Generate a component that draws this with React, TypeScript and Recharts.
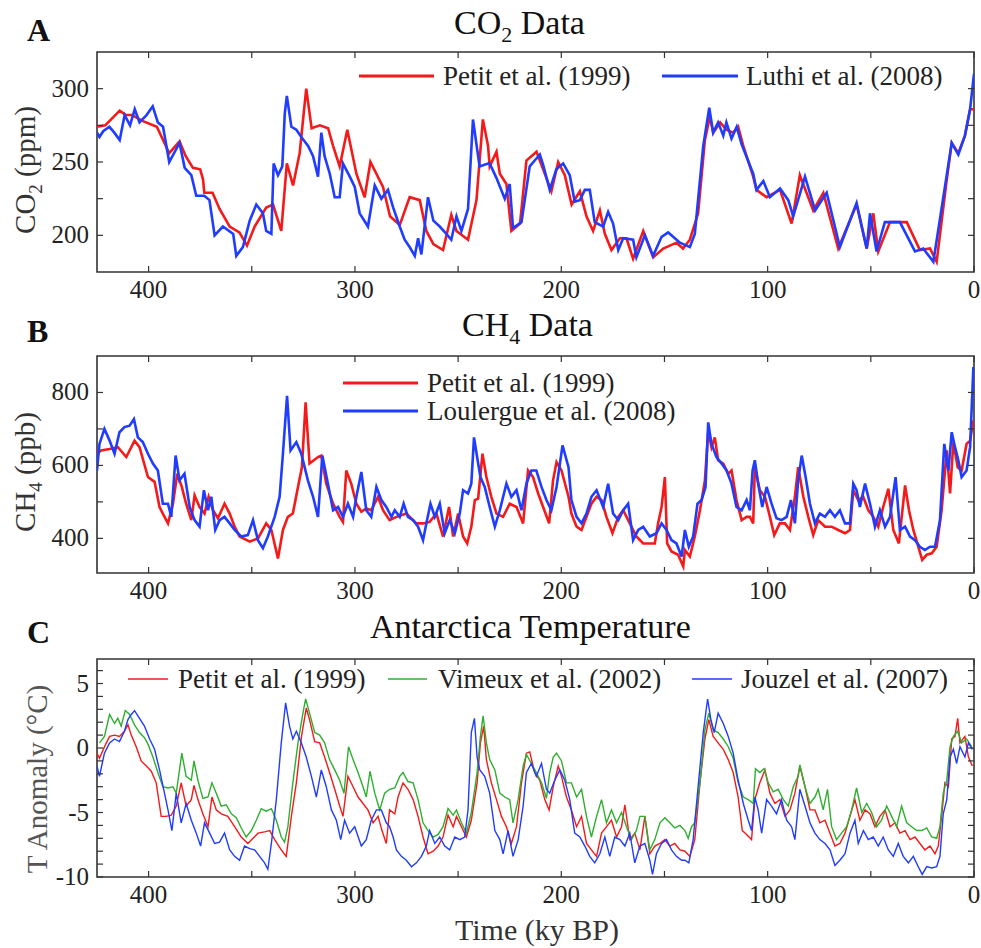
import React from 'react';
import { LineChart, Line, XAxis, YAxis, ReferenceArea } from 'recharts';

// ages in ky BP, values as [age, value]
const co2Petit = [
  [425, 274], [421, 275], [414, 285], [411, 282], [408, 282], [403, 278], [396, 274], [393, 265], [390, 256],
  [385, 264], [382, 254], [378.5, 246], [375, 245], [373.6, 238], [373, 229], [369, 229], [365.6, 218],
  [360.7, 206], [356, 202], [352.3, 193], [348.6, 206], [343, 219], [339.7, 221], [335.7, 203], [333, 249],
  [330, 234], [326.8, 256], [323.6, 300], [321, 273], [317, 275], [313, 273], [310.6, 261], [307.4, 247],
  [303.7, 272], [299.3, 242], [295.3, 226], [292.5, 250], [286.4, 233], [283, 213], [278.3, 207], [273.5, 226],
  [268.6, 224], [265.4, 203], [262, 194], [257.3, 190], [253.3, 214], [250.8, 203], [245.2, 197], [241.1, 224],
  [238, 279], [235.5, 261], [234.7, 247], [231.4, 257], [229.8, 242], [226.6, 235], [224.2, 203], [220, 208],
  [216.9, 251], [212, 257], [208.8, 245], [204.8, 230], [201.5, 250], [198.3, 241], [195, 221], [191, 230],
  [187.8, 213], [184.6, 203], [181.3, 217], [178.9, 201], [175.7, 190], [171.6, 198], [168.4, 198], [165.2, 184],
  [160.3, 203], [155.5, 185], [150.6, 191], [144.2, 195], [141, 191], [137.7, 197], [133.7, 215], [130.4, 265],
  [128, 281], [126.4, 270], [123, 277], [120, 272], [116.7, 270], [114.3, 274], [111.8, 261], [107, 240],
  [105.4, 231], [100.5, 226], [94, 231], [88.4, 208], [84.4, 241], [77.9, 217], [73, 229], [65.8, 191],
  [56.9, 221], [52, 191], [48.8, 215], [46.4, 189], [40.7, 209], [32.6, 209], [26.2, 190], [21.3, 191],
  [18.1, 182], [13.3, 237], [10.8, 263], [7.6, 256], [4.4, 268], [1.9, 286], [0, 286],
];

const co2Luthi = [
  [425, 270], [423.8, 267], [422, 271], [419, 274], [416.6, 270], [414, 265], [411.6, 282], [409, 275],
  [406.7, 286], [404.4, 277], [401, 282], [398, 288], [395.5, 277], [393, 274], [390, 250], [385, 263],
  [382.5, 246], [379.3, 241], [376.9, 227], [373, 227], [370.5, 224], [368, 200], [364, 206], [359, 201],
  [357.5, 186], [354.3, 192], [351, 210], [347.8, 221], [344.6, 215], [343, 203], [340.5, 201], [339.4, 249],
  [337.3, 241], [335.2, 247], [334, 283], [333, 295], [330.8, 274], [328.4, 272], [326, 267], [322.7, 261],
  [320.3, 254], [317.9, 240], [316.3, 270], [314.7, 254], [312.2, 242], [309.8, 226], [307.4, 226], [305.8, 249],
  [302.5, 240], [300.1, 233], [297.7, 215], [293.7, 206], [290.4, 234], [287.2, 225], [284, 231], [281.5, 219],
  [278.3, 206], [275.9, 197], [273.5, 192], [271, 186], [269.4, 198], [267.8, 187], [264.6, 226], [262, 210],
  [258.9, 206], [255.7, 201], [253.3, 197], [250.8, 213], [248.4, 203], [245.2, 218], [242.8, 279], [239.6, 247],
  [235.5, 249], [234.7, 249], [231.4, 239], [227.4, 225], [225, 235], [223.4, 205], [219.3, 209], [215.3, 247],
  [212.9, 251], [210.4, 255], [208.8, 248], [205.6, 231], [202.4, 245], [199.1, 249], [195.9, 241], [193.5, 223],
  [191, 224], [188.6, 231], [186.2, 231], [183.8, 209], [179.7, 206], [177.3, 216], [174.9, 208], [172.4, 190],
  [170, 198], [165.2, 197], [163.6, 185], [159.5, 200], [155.5, 186], [151.4, 199], [148.2, 202], [142.5, 195],
  [137.7, 192], [135.3, 201], [131.2, 261], [128.3, 287], [126.4, 270], [124, 277], [121.5, 268], [120, 277],
  [117.5, 266], [115, 274], [112.6, 262], [107, 242], [105.4, 231], [102.1, 237], [98.9, 226], [94, 232],
  [90, 224], [87.6, 213], [81.9, 240], [77, 217], [71.4, 229], [65, 192], [56.9, 222], [52, 191], [50.4, 215],
  [47.2, 189], [43.2, 209], [35.9, 209], [28.6, 189], [24.6, 191], [19.7, 182], [14.1, 233], [10.8, 263],
  [7.6, 255], [4.4, 268], [1.9, 286], [0, 310],
];

const ch4Petit = [
  [425, 632], [423, 641], [418.9, 645], [414.9, 650], [410.8, 623], [406.8, 668], [404.4, 650], [400.3, 568],
  [397.1, 555], [394.7, 486], [393.1, 468], [390.6, 441], [388.2, 495], [386.1, 577], [383.9, 541], [381.8, 495],
  [379.3, 450], [377.7, 518], [375.3, 486], [372.9, 468], [370.9, 514], [368.8, 477], [366.4, 455], [363.2, 495],
  [360.7, 468], [358.3, 432], [355.9, 405], [351, 391], [347, 400], [343, 441], [340.5, 423], [337.3, 345],
  [334.9, 423], [332.5, 459], [330.1, 468], [327.6, 541], [325.7, 595], [323.9, 773], [322, 605], [317.9, 623],
  [316.3, 627], [313.9, 550], [310.6, 495], [307.4, 459], [305.8, 445], [304.2, 586], [301.8, 550], [299.3, 495],
  [296.9, 473], [294.5, 482], [292.1, 477], [288.8, 514], [286.4, 477], [283.2, 450], [279.9, 459], [275.1, 468],
  [270.2, 441], [267, 441], [263.8, 445], [260.5, 468], [257.3, 405], [254.4, 486], [252.4, 405], [250, 468],
  [247.6, 405], [245.6, 386], [243.6, 432], [241.9, 505], [240.3, 509], [238.2, 632], [236.3, 568], [233.9, 514],
  [231.4, 468], [228.2, 459], [225, 495], [221.7, 486], [218.5, 441], [216.1, 586], [213.7, 568], [211.2, 523],
  [208.8, 486], [205.9, 441], [204, 559], [202.3, 609], [199.9, 586], [196.5, 514], [195.1, 468], [192.6, 432],
  [190.2, 423], [187.8, 459], [185.4, 495], [182.9, 514], [180.5, 505], [178.1, 459], [175.2, 414], [172.4, 459],
  [170, 477], [166.8, 441], [163.6, 405], [160.3, 386], [157.1, 386], [154.7, 386], [153.1, 441], [151.4, 486],
  [149.8, 568], [148.7, 386], [146.6, 364], [143.4, 355], [140.9, 323], [140.1, 368], [137.7, 350], [135.3, 405],
  [132.8, 477], [130.4, 559], [128.8, 695], [127.2, 650], [125.6, 677], [124, 614], [121.5, 605], [119.1, 577],
  [117.5, 586], [115.1, 505], [112.6, 450], [110.2, 459], [108.6, 459], [107, 441], [106.2, 595], [103.8, 532],
  [101.3, 514], [98.9, 459], [96.8, 409], [94.1, 441], [91.6, 441], [89.2, 423], [86.8, 514], [85.2, 595],
  [82.7, 514], [80.3, 459], [77.9, 409], [75.5, 450], [72.2, 432], [69, 432], [65.8, 423], [62.5, 414],
  [60.1, 423], [58.5, 532], [56.1, 505], [53.7, 514], [51.2, 477], [48.8, 459], [46.4, 432], [44, 486],
  [41.5, 536], [39.1, 423], [36.4, 386], [33.4, 545], [31.5, 477], [29.4, 423], [27, 377], [25.1, 341],
  [22.9, 355], [20.5, 359], [18.1, 377], [15.7, 477], [13.2, 641], [11.6, 523], [10, 664], [7.9, 595], [6, 586],
  [3.6, 659], [1.9, 668], [0.3, 723],
];

const ch4Loulergue = [
  [425, 586], [423.8, 659], [421.4, 700], [418.9, 668], [416.5, 632], [414.1, 691], [411.7, 705], [409.2, 709],
  [407.1, 727], [405.2, 677], [402.8, 664], [400.3, 632], [397.9, 605], [395.5, 586], [393.1, 495], [390.6, 495],
  [389, 459], [386.9, 627], [385, 559], [382.6, 577], [380.1, 486], [377.7, 450], [375.3, 432], [373.2, 532],
  [371.2, 477], [369.6, 514], [367.7, 423], [365.6, 450], [363.2, 459], [360.7, 441], [358.3, 423], [355.1, 405],
  [351.9, 409], [349.4, 450], [347, 395], [344.6, 373], [342.2, 405], [338.9, 459], [336.5, 514], [334.9, 632],
  [332.9, 791], [331.2, 641], [328.4, 664], [326, 632], [322.8, 559], [320.3, 514], [317.9, 459], [315.8, 627],
  [313.1, 550], [310.6, 477], [308.2, 486], [305.8, 459], [303.4, 495], [300.9, 459], [299.3, 514], [296.9, 582],
  [294.5, 477], [292.1, 459], [289.6, 541], [287.2, 505], [284.8, 486], [282.3, 459], [280.7, 477], [278.3, 459],
  [276.4, 495], [274.3, 459], [271.8, 450], [269.4, 432], [267, 395], [265.4, 441], [263.4, 495], [261.3, 459],
  [258.9, 495], [256.5, 414], [254.1, 450], [251.6, 414], [249.2, 468], [247.6, 532], [245.2, 523], [243.6, 550],
  [242.3, 677], [240.8, 623], [239.2, 568], [237.1, 541], [234.7, 486], [232.2, 432], [229.8, 477], [226.6, 550],
  [224.2, 514], [221.7, 532], [219.3, 477], [216.9, 550], [214.5, 586], [212.1, 586], [209.6, 541], [207.2, 505],
  [204.8, 477], [202.3, 541], [199.4, 655], [196.5, 595], [195.1, 505], [192.6, 459], [190.2, 441], [187.8, 468],
  [185.4, 514], [182.9, 532], [179.7, 486], [177.3, 550], [174.9, 468], [172.4, 450], [170, 477], [167.6, 495],
  [165.2, 395], [162.7, 423], [160.3, 432], [157.1, 405], [153.9, 414], [151.4, 441], [149, 423], [146.6, 395],
  [144.2, 386], [141.7, 350], [140.1, 423], [138.2, 377], [136.1, 405], [134, 495], [132, 505], [130.1, 541],
  [128.8, 718], [127.2, 659], [124.8, 623], [122.3, 605], [119.9, 586], [117.5, 550], [115.1, 486], [112.6, 477],
  [110.2, 505], [108.6, 477], [107.3, 586], [106.2, 614], [104.6, 550], [102.6, 486], [100.5, 541], [98.1, 495],
  [95.7, 455], [93.3, 450], [90.8, 459], [88.7, 505], [86.8, 441], [85.2, 559], [83.5, 627], [81.6, 568],
  [79.5, 495], [77.1, 441], [74.7, 468], [72.2, 459], [69.8, 477], [67.4, 459], [65, 477], [62.5, 441],
  [60.1, 441], [58.5, 550], [56.9, 532], [55.3, 486], [52.8, 550], [50.4, 495], [48, 432], [45.6, 477],
  [43.1, 432], [40.7, 459], [38, 568], [35.9, 423], [33.4, 432], [31, 405], [28.6, 395], [26.2, 377], [23.8, 368],
  [21.3, 377], [18.9, 377], [16.5, 450], [14.4, 659], [12.4, 586], [10.8, 691], [9.2, 650], [7.6, 614], [6, 568],
  [3.6, 586], [1.9, 650], [0.3, 870], [0, 860],
];

const tempPetit = [
  [425, -0.4], [423.8, -0.8], [421.4, 0.1], [418.9, 0.9], [416.5, 1], [414.1, 0.9], [411.7, 1.3], [410, 1.8],
  [408.4, 1], [406, 0.1], [403.6, -1], [401.1, -1.4], [398.7, -1.8], [396.3, -2.7], [393.9, -5.3], [391.5, -5.3],
  [389, -5.2], [386.6, -4.5], [384.2, -2.7], [381.8, -4.5], [379.3, -4], [378, -2.9], [376.1, -4], [373.7, -5.1],
  [371.2, -6.1], [369.3, -3.8], [367.2, -4.8], [364.8, -5.1], [361.6, -5.3], [358.3, -6.1], [355.1, -6.9],
  [351.9, -7.4], [349.4, -7], [347, -6.6], [343.8, -6.5], [341.3, -6.4], [338.9, -7.1], [335.7, -7.9],
  [333.3, -8.4], [330.8, -5.3], [328.4, -2.7], [325.9, 0.9], [323.6, 3.1], [322, 2.2], [319.5, 0.5], [317.1, 0.4],
  [314.7, -0.7], [312.3, -1.9], [309.8, -3.2], [307.4, -4.5], [305.8, -5.3], [303.4, -2.2], [300.9, -3],
  [298.5, -3.8], [296.1, -4.3], [293.7, -4.8], [291.2, -5.8], [288.8, -5.3], [286.9, -6.4], [284.8, -7.4],
  [283.2, -4.8], [280.7, -5.1], [279.1, -3.8], [276.7, -2.7], [274.3, -3.2], [271.8, -4], [269.4, -5.3],
  [267, -6.9], [264.6, -8.2], [262.1, -8], [259.7, -7.6], [257.3, -6.9], [254.9, -5.2], [252.4, -6.1],
  [250.8, -5.3], [248.4, -6.1], [246, -6.9], [243.6, -5.6], [240.8, -2.7], [239.2, 0.4], [237.6, 1.7],
  [236.3, -0.9], [233.9, -2.7], [231.4, -4], [229, -5.3], [226.6, -6.1], [224.2, -7.4], [221.7, -6.1],
  [219.3, -2.7], [216.9, -0.4], [215.3, -0.3], [212.9, -1.9], [210.4, -2.5], [208, -4], [205.9, -4.8], [203.9, -3],
  [201.5, -1.4], [199.9, -2.2], [197.5, -3.8], [195.1, -4.8], [192.6, -6.1], [190.2, -5.3], [187.8, -7.4],
  [185.4, -7.9], [182.9, -8.4], [180.5, -6.6], [178.1, -6.1], [175.7, -5.6], [173.2, -6.9], [170.8, -6.1],
  [169.2, -4.4], [166.8, -7.1], [164.4, -6.6], [161.9, -7.9], [159.5, -5.3], [157.1, -8.2], [154.7, -7.6],
  [152.2, -7.4], [149.8, -7.1], [147.4, -7.6], [145, -7.4], [142.5, -7.9], [140.1, -8], [137.7, -8.4],
  [135.3, -7.1], [132.8, -2.7], [130.4, 0.7], [128.5, 2.2], [126.4, 0.9], [124, 0.4], [121.5, -0.1], [119.1, -0.9],
  [116.7, -1.9], [114.3, -3.8], [112.3, -6.4], [110.2, -6.7], [107.8, -7.1], [106.2, -4], [103.8, -2.7],
  [101.3, -1.7], [98.9, -3.5], [96.5, -4.3], [94.1, -4], [91.6, -5.3], [89.2, -4.8], [86.8, -3.5], [84.4, -1.4],
  [81.9, -3], [79.5, -4.8], [77.1, -4.8], [74.7, -5.8], [72.2, -5.6], [69.8, -6.6], [67.4, -7.6], [65, -7.4],
  [62.5, -6.6], [60.1, -5.3], [57.7, -4], [55.3, -5.6], [52.8, -4.8], [50.4, -5.1], [48, -6.1], [45.6, -5.3],
  [43.1, -4.8], [40.7, -6.1], [38.3, -5.8], [35.9, -6.6], [33.4, -6.4], [31, -7.1], [28.6, -6.9], [26.2, -7.4],
  [23.8, -7.9], [21.3, -7.6], [18.9, -8.2], [17.3, -7.6], [15.7, -5.3], [14.1, -2.7], [12.4, -3], [10.8, 0.7],
  [9.2, 0.9], [7.9, 2.3], [6.8, 0.4], [4.4, 0.9], [2.7, -0.7], [0.8, -1.4],
];

const tempVimeux = [
  [423.8, 0.4], [421.4, 0.9], [418.9, 2.6], [416.5, 1.9], [414.9, 2.3], [413.3, 1.7], [411.3, 2.9], [409.2, 2.6],
  [406.8, 1.8], [404.4, 1.2], [402, 0.8], [400.3, 0.3], [397.9, -0.7], [395.5, -1.9], [393.1, -3], [390.6, -3.1],
  [388.2, -3], [386.6, -3.5], [383.9, -0.4], [381.8, -2.2], [379.3, -2.5], [378, -1], [376.1, -2.5], [373.7, -3.9],
  [371.2, -3.8], [369.3, -2.7], [367.2, -3.5], [364.8, -4.5], [362.4, -4.4], [359.9, -5.1], [357.5, -5.4],
  [355.1, -6.2], [352.7, -6.9], [350.2, -6.4], [347.8, -5.6], [345.4, -4.7], [343, -4.9], [340.5, -4.7],
  [338.1, -5.6], [335.7, -6.9], [334.1, -7.3], [332.5, -6.1], [330.1, -2.7], [327.6, 0.4], [325.2, 2.7],
  [323.9, 3.8], [322, 2.7], [319.5, 1.2], [317.1, 1], [314.7, 0.4], [312.3, -0.9], [309.8, -1.7], [307.4, -2.5],
  [305.3, -3.5], [303.1, 0.1], [300.9, -0.9], [298.5, -1.9], [296.1, -3], [294.5, -3.8], [292.7, -1.8],
  [290.4, -3.5], [288, -4.8], [285.6, -3.5], [283.2, -3.2], [280.7, -3.1], [278.3, -2.2], [276.7, -1.9],
  [274.3, -2.6], [271.8, -2.7], [269.4, -4], [267, -5.8], [264.6, -6.4], [262.1, -6.9], [259.7, -6.7],
  [257.3, -6.1], [254.9, -4.7], [252.4, -5.2], [250.8, -4.8], [248.4, -5.8], [246, -6.6], [243.6, -5],
  [240.8, -1.9], [239.2, 0.9], [237.9, 2.5], [236.3, 0.4], [234.7, -0.9], [232.2, -1.7], [229.8, -3.5],
  [227.4, -3.8], [225, -4], [223.4, -5.8], [220.9, -4], [218.5, -1.4], [216.9, -0.5], [214.5, -1.2], [212.1, -1.9],
  [209.6, -2.7], [207.2, -3.9], [205.6, -1.9], [203.9, -0.7], [202.3, -0.4], [199.9, -1], [197.5, -2.7],
  [195.1, -2.7], [192.6, -3.8], [190.2, -3.2], [187.8, -5.3], [185.4, -6.9], [182.9, -5.3], [180.5, -4],
  [178.1, -5.8], [175.7, -4.8], [173.2, -5.8], [170.8, -5], [168.4, -6.1], [166, -7.1], [163.6, -6.4],
  [161.9, -5.3], [159.5, -5.3], [157.1, -7.9], [154.7, -7.1], [152.2, -5.8], [149.8, -5.4], [147.4, -5.8],
  [145, -6.2], [142.5, -6], [140.1, -6.4], [138.5, -7], [136.9, -6.1], [135.3, -5.8], [132.8, -2.7], [130.4, 1.4],
  [128.5, 2.7], [126.4, 1.4], [124, 1.2], [121.5, 0.7], [119.1, 0.1], [116.7, -0.8], [114.3, -2.7], [111.8, -3.8],
  [109.4, -4], [107, -4.3], [105.9, -1.6], [103.8, -1.9], [101.7, -1.6], [99.7, -2.7], [97.3, -3.4], [94.9, -3.2],
  [92.4, -4], [90, -4.5], [87.6, -3], [85.2, -2.2], [84.4, -1.3], [81.9, -3], [79.5, -4.3], [77.1, -3.8],
  [75.5, -3.2], [73.1, -4.8], [71, -3.2], [69, -6.1], [66.6, -7.1], [64.2, -6.6], [61.7, -6.1], [59.3, -4.8],
  [56.9, -3.1], [54.4, -5], [52, -4.3], [49.6, -5], [47.2, -6.1], [44.8, -5.6], [42.3, -4.5], [39.9, -5.3],
  [37.5, -6.1], [35.1, -4.5], [32.6, -5.8], [30.2, -6.1], [27.8, -6.4], [25.4, -6.4], [22.9, -6.2], [20.5, -6.9],
  [18.1, -7], [16.5, -6.1], [14.9, -3.5], [13.2, -2.5], [11.6, 0.1], [10, 0.9], [7.9, 1.3], [6, 0.4], [3.6, 0.7],
  [1.1, 0.1],
];

const tempJouzel = [
  [425, -1.4], [423.8, -2.2], [421.4, -0.4], [418.9, 0.4], [416.5, 0.7], [414.1, 0.5], [411.7, 1.3], [410, 2.2],
  [408.4, 2.6], [406.8, 2.9], [404.4, 2.3], [402, 1.7], [399.5, 0.7], [397.1, -0.1], [394.7, -1.7], [392.3, -3.5],
  [390.6, -4.8], [388.7, -6.4], [386.6, -3.5], [384.2, -5.8], [381.8, -4.3], [379.3, -5.6], [376.9, -6.6],
  [374.8, -7.6], [372.9, -5.8], [370.4, -6.6], [368, -7.4], [365.6, -7.3], [363.2, -6.6], [360.7, -7.9],
  [358.3, -8.4], [355.9, -8.7], [353.5, -7.6], [351, -7.8], [348.6, -7.9], [346.2, -8.4], [343.8, -8.9],
  [342.2, -9.4], [340.5, -7.4], [338.1, -4], [335.7, 0.4], [333.6, 3.5], [331.7, 1.7], [330.1, 0.7], [328.4, 1.3],
  [326, 0.4], [323.6, -0.7], [321.1, -2.2], [318.7, -3.8], [316.3, -1.7], [313.9, -3], [311.4, -4.8], [309, -5.6],
  [306.9, -7.1], [305, -5.6], [302.6, -6.6], [300.1, -6.1], [296.9, -7.6], [294.5, -7.1], [292.1, -5.6],
  [289.6, -4.8], [287.2, -4.8], [284.8, -5.8], [283.2, -6.1], [281.5, -6.9], [279.9, -7.9], [277.5, -8.4],
  [275.1, -8.7], [272.6, -9.2], [270.2, -8.9], [267.8, -8.4], [265.4, -7.6], [263.8, -6.4], [261.3, -7.4],
  [258.9, -6.9], [256.5, -7.6], [254.1, -7.9], [251.6, -6.9], [249.2, -7.1], [246.8, -6.9], [245.2, -4.8],
  [243.6, 1.2], [242.1, 2.3], [240.8, -0.7], [239.5, -1.7], [237.1, -2.2], [234.7, -3.5], [232.2, -6.4],
  [229.8, -7.1], [228.2, -8.2], [225.8, -6.4], [223.4, -8.4], [220.9, -7.1], [218.5, -4.5], [216.9, -1.9],
  [214.5, -1.2], [212.1, -2.2], [209.6, -1.2], [207.2, -3.2], [205.6, -3.5], [203.2, -2.5], [200.7, -1.7],
  [198.3, -2.5], [195.9, -4], [193.5, -6.6], [191, -6.9], [188.6, -7.6], [186.2, -8.4], [183.8, -8.9],
  [181.3, -8.2], [178.9, -6.9], [176.5, -8.4], [174.1, -6.9], [171.6, -7.1], [169.2, -7.6], [166.8, -6.6],
  [164.4, -8.9], [161.9, -7.6], [159.5, -7.4], [157.1, -8.7], [155.8, -9.8], [153.9, -8.2], [151.4, -7.4],
  [149, -7.1], [146.6, -7.9], [144.2, -8.4], [141.7, -8.7], [140.1, -8.7], [138.2, -8.9], [136.1, -7.1],
  [133.7, -3], [131.2, 1.2], [129.1, 3.8], [127.5, 2.2], [125.9, 1.2], [124, 2.7], [121.5, 1.9], [119.1, 0.9],
  [116.7, -0.4], [114.3, -2.5], [111.8, -4.3], [109.4, -5.6], [107.8, -6.4], [106.2, -3.8], [104.6, -4.8],
  [102.9, -6.6], [100.5, -4], [98.1, -4.5], [95.7, -5.1], [93.3, -4], [90.8, -5.6], [88.4, -6.1], [86.8, -7.1],
  [84.4, -3.2], [81.9, -4.5], [79.5, -5.8], [77.1, -6.6], [74.7, -7.1], [72.2, -7.4], [69.8, -7.9], [67.4, -9.1],
  [65, -8.7], [62.5, -8.2], [60.1, -6.6], [57.7, -5.6], [56.1, -7.4], [53.6, -6.4], [51.2, -7.1], [48.8, -6.9],
  [46.4, -7.6], [44, -6.9], [41.5, -7.9], [39.1, -8.4], [36.7, -7.4], [34.3, -8.4], [31.8, -8.9], [29.4, -8.4],
  [27, -9.2], [25.1, -9.8], [22.9, -9.2], [20.5, -9.3], [18.1, -9.2], [16.5, -8.4], [14.9, -5.1], [13.2, -4],
  [11.6, -0.7], [10, -0.1], [8.4, -1.2], [6.8, 0.1], [4.4, -0.7], [2.7, 0.4], [0.8, -0.1],
];

const ageTicks = [0, 50, 100, 150, 200, 250, 300, 350, 400];
const co2Ticks = [200, 225, 250, 275, 300];
const ch4Ticks = [400, 500, 600, 700, 800];
const tempTicks = [-10, -9, -8, -7, -6, -5, -4, -3, -2, -1, 0, 1, 2, 3, 4, 5, 6];

const RED = '#f51a1a';
const BLUE = '#1f3cff';
const GREEN = '#2fae2f';
const INK = '#222';
const FONT = '"Liberation Serif", "Times New Roman", serif';

const W = 981;
const H = 948;
const LEFT = 97;
const RIGHT = 974;

const pts = (a: number[][]) => a.map(([t, v]) => ({ t, v }));

type Series = { data: number[][]; color: string; width: number };

function Panel(props: {
  top: number;
  bottom: number;
  domain: [number, number];
  yTicks: number[];
  labelEvery: number;
  series: Series[];
}) {
  const { top, bottom, domain, yTicks, labelEvery, series } = props;

  const xTick = (p: any) => {
    const x = p.x;
    const v = p.payload.value;
    return (
      <g>
        <line x1={x} x2={x} y1={bottom} y2={bottom - 6} stroke="#333" strokeWidth={1.2} />
        <line x1={x} x2={x} y1={top} y2={top + 6} stroke="#333" strokeWidth={1.2} />
        {v % 100 === 0 && (
          <text x={x} y={bottom + 26} textAnchor="middle" fontSize={25} fontFamily={FONT} fill={INK}>
            {v}
          </text>
        )}
      </g>
    );
  };

  const yTick = (p: any) => {
    const y = p.y;
    const v = p.payload.value;
    return (
      <g>
        <line x1={LEFT} x2={LEFT + 6} y1={y} y2={y} stroke="#333" strokeWidth={1.2} />
        <line x1={RIGHT} x2={RIGHT - 6} y1={y} y2={y} stroke="#333" strokeWidth={1.2} />
        {v % labelEvery === 0 && (
          <text x={89} y={y + 8} textAnchor="end" fontSize={25} fontFamily={FONT} fill={INK}>
            {String(v)}
          </text>
        )}
      </g>
    );
  };

  return (
    <div style={{ position: 'absolute', left: 0, top: 0 }}>
      <LineChart
        width={W}
        height={H}
        margin={{ top, right: W - RIGHT, bottom: H - bottom - 30, left: LEFT - 60 }}
      >
        <XAxis
          dataKey="t"
          type="number"
          domain={[0, 425]}
          reversed
          ticks={ageTicks}
          interval={0}
          height={30}
          axisLine={false}
          tickLine={false}
          tick={xTick}
          allowDataOverflow
        />
        <YAxis
          type="number"
          domain={domain}
          ticks={yTicks}
          interval={0}
          width={60}
          axisLine={false}
          tickLine={false}
          tick={yTick}
          allowDataOverflow
        />
        <ReferenceArea
          x1={425}
          x2={0}
          y1={domain[0]}
          y2={domain[1]}
          fill="none"
          stroke="#333"
          strokeWidth={1.6}
          ifOverflow="visible"
        />
        {series.map((s, i) => (
          <Line
            key={i}
            data={pts(s.data)}
            dataKey="v"
            type="linear"
            stroke={s.color}
            strokeWidth={s.width}
            dot={false}
            isAnimationActive={false}
          />
        ))}
      </LineChart>
    </div>
  );
}

function Annotations() {
  const t = { fontFamily: FONT, fill: INK };
  return (
    <svg width={W} height={H} style={{ position: 'absolute', left: 0, top: 0, pointerEvents: 'none' }}>
      {/* panel letters */}
      <text x={27} y={41} fontSize={32} fontWeight="bold" {...t} fill="#111">A</text>
      <text x={27} y={342} fontSize={32} fontWeight="bold" {...t} fill="#111">B</text>
      <text x={27} y={643} fontSize={32} fontWeight="bold" {...t} fill="#111">C</text>

      {/* titles */}
      <text x={454} y={34} fontSize={34} {...t} fill="#111">
        CO<tspan dy={8} fontSize={22}>2</tspan><tspan dy={-8}> Data</tspan>
      </text>
      <text x={462} y={336} fontSize={34} {...t} fill="#111">
        CH<tspan dy={8} fontSize={22}>4</tspan><tspan dy={-8}> Data</tspan>
      </text>
      <text x={370} y={638} fontSize={34} {...t} fill="#111">Antarctica Temperature</text>

      {/* y labels */}
      <text transform="translate(35,170) rotate(-90)" textAnchor="middle" fontSize={29} {...t} fill="#333">
        CO<tspan dy={7} fontSize={19}>2</tspan><tspan dy={-7}> (ppm)</tspan>
      </text>
      <text transform="translate(35,472) rotate(-90)" textAnchor="middle" fontSize={29} {...t} fill="#333">
        CH<tspan dy={7} fontSize={19}>4</tspan><tspan dy={-7}> (ppb)</tspan>
      </text>
      <text transform="translate(47,779) rotate(-90)" textAnchor="middle" fontSize={29} {...t} fill="#555">
        T Anomaly (°C)
      </text>

      {/* x label */}
      <text x={455} y={940} fontSize={30} {...t} fill="#333">Time (ky BP)</text>

      {/* legend A */}
      <line x1={359} x2={434} y1={76} y2={76} stroke={RED} strokeWidth={3} />
      <text x={443} y={85} fontSize={27} {...t}>Petit et al. (1999)</text>
      <line x1={662} x2={738} y1={76} y2={76} stroke={BLUE} strokeWidth={3} />
      <text x={746} y={85} fontSize={27} {...t}>Luthi et al. (2008)</text>

      {/* legend B */}
      <line x1={343} x2={418} y1={383} y2={383} stroke={RED} strokeWidth={3} />
      <text x={427} y={392} fontSize={27} {...t}>Petit et al. (1999)</text>
      <line x1={343} x2={418} y1={411} y2={411} stroke={BLUE} strokeWidth={3} />
      <text x={427} y={420} fontSize={27} {...t}>Loulergue et al. (2008)</text>

      {/* legend C */}
      <line x1={128} x2={168} y1={679} y2={679} stroke={RED} strokeWidth={1.5} />
      <text x={178} y={688} fontSize={27} {...t}>Petit et al. (1999)</text>
      <line x1={388} x2={427} y1={679} y2={679} stroke={GREEN} strokeWidth={1.5} />
      <text x={438} y={688} fontSize={27} {...t}>Vimeux et al. (2002)</text>
      <line x1={692} x2={732} y1={679} y2={679} stroke={BLUE} strokeWidth={1.5} />
      <text x={741} y={688} fontSize={27} {...t}>Jouzel et al. (2007)</text>
    </svg>
  );
}

export default function App() {
  return (
    <div style={{ position: 'absolute', left: 0, top: 0, width: W, height: H, background: '#fff' }}>
      <Panel
        top={52}
        bottom={272}
        domain={[175, 325]}
        yTicks={co2Ticks}
        labelEvery={50}
        series={[
          { data: co2Petit, color: RED, width: 2.6 },
          { data: co2Luthi, color: BLUE, width: 2.6 },
        ]}
      />
      <Panel
        top={356}
        bottom={573}
        domain={[305, 900]}
        yTicks={ch4Ticks}
        labelEvery={200}
        series={[
          { data: ch4Petit, color: RED, width: 2.6 },
          { data: ch4Loulergue, color: BLUE, width: 2.6 },
        ]}
      />
      <Panel
        top={659}
        bottom={877}
        domain={[-10, 6.9]}
        yTicks={tempTicks}
        labelEvery={5}
        series={[
          { data: tempPetit, color: RED, width: 1.4 },
          { data: tempVimeux, color: GREEN, width: 1.4 },
          { data: tempJouzel, color: BLUE, width: 1.4 },
        ]}
      />
      <Annotations />
    </div>
  );
}
